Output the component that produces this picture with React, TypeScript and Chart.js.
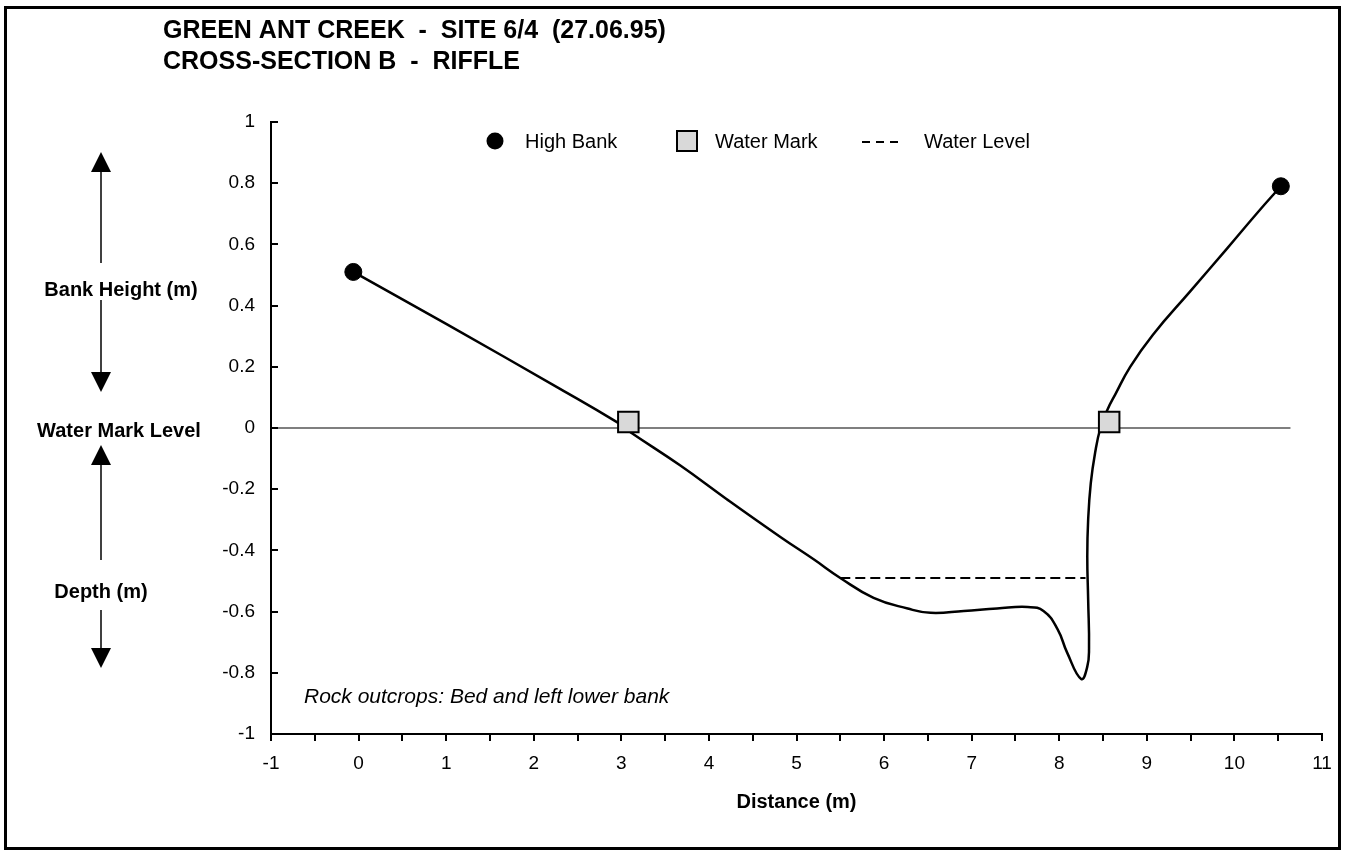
import React, { useEffect, useRef } from 'react';
import { Chart, registerables } from 'chart.js';

Chart.register(...registerables);

// ---------- data ----------
const profileX = [-0.06, 1.0, 2.3, 2.95, 3.1, 3.67, 4.2, 4.82, 5.2, 5.5, 5.88, 6.27, 6.53, 6.91, 7.29, 7.64, 7.82, 7.98, 8.09, 8.25, 8.32, 8.34, 8.33, 8.32, 8.33, 8.36, 8.41, 8.47, 8.55, 8.64, 8.81, 9.07, 9.5, 9.92, 10.27, 10.53];
const profileY = [0.51, 0.34, 0.128, 0.019, -0.013, -0.122, -0.232, -0.357, -0.43, -0.49, -0.555, -0.59, -0.604, -0.598, -0.59, -0.585, -0.598, -0.657, -0.734, -0.82, -0.78, -0.72, -0.56, -0.42, -0.3, -0.18, -0.08, 0.0, 0.06, 0.11, 0.2, 0.305, 0.448, 0.588, 0.706, 0.79];

const highBankX = [-0.06, 10.53];
const highBankY = [0.51, 0.79];

const waterMarkX = [3.08, 8.57];
const waterMarkY = [0.02, 0.02];

const waterLevelX = [5.5, 8.3];
const waterLevelY = [-0.49, -0.49];

const markLevelX = [-1, 10.64];
const markLevelY = [0, 0];

const xTickValues = [-1, 0, 1, 2, 3, 4, 5, 6, 7, 8, 9, 10, 11];
const yTickValues = [1, 0.8, 0.6, 0.4, 0.2, 0, -0.2, -0.4, -0.6, -0.8, -1];

const titleLines = ['GREEN ANT CREEK  -  SITE 6/4  (27.06.95)', 'CROSS-SECTION B  -  RIFFLE'];
const legendLabels = ['High Bank', 'Water Mark', 'Water Level'];
const xAxisTitle = 'Distance (m)';
const sideLabels = ['Bank Height (m)', 'Water Mark Level', 'Depth (m)'];
const noteText = 'Rock outcrops: Bed and left lower bank';

const FONT = '"Liberation Sans", Arial, Helvetica, sans-serif';

const pts = (xs: number[], ys: number[]) => xs.map((x, i) => ({ x, y: ys[i] }));

function arrowHead(ctx: CanvasRenderingContext2D, x: number, tipY: number, baseY: number, hw: number) {
  ctx.beginPath();
  ctx.moveTo(x, tipY);
  ctx.lineTo(x - hw, baseY);
  ctx.lineTo(x + hw, baseY);
  ctx.closePath();
  ctx.fill();
}

function vline(ctx: CanvasRenderingContext2D, x: number, y1: number, y2: number) {
  ctx.beginPath();
  ctx.moveTo(x, y1);
  ctx.lineTo(x, y2);
  ctx.stroke();
}

const decoPlugin = {
  id: 'deco',
  afterDraw(chart: any) {
    const ctx: CanvasRenderingContext2D = chart.ctx;
    const ys = chart.scales.y;
    const area = chart.chartArea;
    ctx.save();

    // outer frame
    ctx.strokeStyle = '#000';
    ctx.lineWidth = 3;
    ctx.strokeRect(5.5, 7.5, 1334, 841);

    // inward y ticks
    ctx.lineWidth = 2;
    for (const v of yTickValues) {
      const py = Math.round(ys.getPixelForValue(v));
      ctx.beginPath();
      ctx.moveTo(area.left, py);
      ctx.lineTo(area.left + 7, py);
      ctx.stroke();
    }

    ctx.fillStyle = '#000';
    // title
    ctx.font = `bold 25px ${FONT}`;
    ctx.textAlign = 'left';
    ctx.textBaseline = 'middle';
    ctx.fillText(titleLines[0], 163, 31);
    ctx.fillText(titleLines[1], 163, 62);

    // legend
    ctx.font = `20px ${FONT}`;
    ctx.beginPath();
    ctx.arc(495, 141, 8.5, 0, Math.PI * 2);
    ctx.fill();
    ctx.fillText(legendLabels[0], 525, 142);
    ctx.fillStyle = '#d9d9d9';
    ctx.fillRect(677, 131, 20, 20);
    ctx.strokeStyle = '#000';
    ctx.lineWidth = 2;
    ctx.strokeRect(677, 131, 20, 20);
    ctx.fillStyle = '#000';
    ctx.fillText(legendLabels[1], 715, 142);
    ctx.lineWidth = 2;
    ctx.setLineDash([8, 6]);
    ctx.beginPath();
    ctx.moveTo(862, 142);
    ctx.lineTo(900, 142);
    ctx.stroke();
    ctx.setLineDash([]);
    ctx.fillText(legendLabels[2], 924, 142);

    // side annotations
    ctx.font = `bold 20px ${FONT}`;
    ctx.textAlign = 'center';
    ctx.fillText(sideLabels[0], 121, 290);
    ctx.fillText(sideLabels[1], 119, 431);
    ctx.fillText(sideLabels[2], 101, 592);

    ctx.lineWidth = 1.5;
    const ax = 101;
    arrowHead(ctx, ax, 152, 172, 10);
    vline(ctx, ax, 170, 263);
    vline(ctx, ax, 300, 374);
    arrowHead(ctx, ax, 392, 372, 10);
    arrowHead(ctx, ax, 445, 465, 10);
    vline(ctx, ax, 463, 560);
    vline(ctx, ax, 610, 650);
    arrowHead(ctx, ax, 668, 648, 10);

    // note
    ctx.font = `italic 21px ${FONT}`;
    ctx.textAlign = 'left';
    ctx.fillText(noteText, 304, 697);

    // x axis title
    ctx.font = `bold 20px ${FONT}`;
    ctx.textAlign = 'center';
    ctx.fillText(xAxisTitle, (area.left + area.right) / 2, 802);

    ctx.restore();
  },
};

export default function App() {
  const ref = useRef<HTMLCanvasElement>(null);

  useEffect(() => {
    document.body.style.margin = '0';
    const canvas = ref.current!;
    const chart = new Chart(canvas, {
      type: 'scatter',
      data: {
        datasets: [
          {
            label: 'High Bank',
            data: pts(highBankX, highBankY),
            showLine: false,
            pointStyle: 'circle',
            pointRadius: 8.5,
            pointBackgroundColor: '#000',
            pointBorderColor: '#000',
            order: 0,
          },
          {
            label: 'Water Mark',
            data: pts(waterMarkX, waterMarkY),
            showLine: false,
            pointStyle: 'rect',
            pointRadius: 14.5,
            pointBackgroundColor: '#d9d9d9',
            pointBorderColor: '#000',
            pointBorderWidth: 2,
            order: 0,
          },
          {
            label: 'Profile',
            data: pts(profileX, profileY),
            showLine: true,
            pointRadius: 0,
            borderColor: '#000',
            borderWidth: 2.5,
            tension: 0.45,
            order: 1,
          },
          {
            label: 'Water Level',
            data: pts(waterLevelX, waterLevelY),
            showLine: true,
            pointRadius: 0,
            borderColor: '#000',
            borderWidth: 2,
            borderDash: [10, 5],
            order: 2,
          },
          {
            label: 'Water Mark Level',
            data: pts(markLevelX, markLevelY),
            showLine: true,
            pointRadius: 0,
            borderColor: '#555',
            borderWidth: 1.5,
            order: 3,
          },
        ],
      },
      options: {
        animation: false,
        responsive: false,
        maintainAspectRatio: false,
        layout: { padding: { left: 0, right: 26, top: 122, bottom: 62 } },
        plugins: {
          legend: { display: false },
          title: { display: false },
          tooltip: { enabled: false },
        },
        scales: {
          x: {
            type: 'linear',
            position: 'bottom',
            min: -1,
            max: 11,
            ticks: {
              stepSize: 0.5,
              autoSkip: false,
              maxRotation: 0,
              color: '#000',
              padding: 11,
              font: { family: FONT, size: 19 },
              callback: (v: any) => (xTickValues.includes(Number(v)) ? String(v) : ''),
            },
            grid: { display: true, drawOnChartArea: false, drawTicks: true, tickLength: 7, color: '#000', lineWidth: 2 },
            border: { display: true, color: '#000', width: 2 },
            afterFit: (s: any) => {
              s.height = 60;
            },
          },
          y: {
            type: 'linear',
            min: -1,
            max: 1,
            ticks: {
              stepSize: 0.2,
              color: '#000',
              padding: 16,
              font: { family: FONT, size: 19 },
              callback: (v: any) => {
                const n = Math.round(Number(v) * 10) / 10;
                const m = yTickValues.find((t) => Math.abs(t - n) < 1e-6);
                return m === undefined ? '' : String(m);
              },
            },
            grid: { display: true, drawOnChartArea: false, drawTicks: false },
            border: { display: true, color: '#000', width: 2 },
            afterFit: (s: any) => {
              s.width = 271;
            },
          },
        },
      },
      plugins: [decoPlugin],
    } as any);
    return () => chart.destroy();
  }, []);

  return (
    <div style={{ width: 1348, height: 856, background: '#fff' }}>
      <canvas ref={ref} width={1348} height={856} style={{ display: 'block', width: 1348, height: 856 }} />
    </div>
  );
}
